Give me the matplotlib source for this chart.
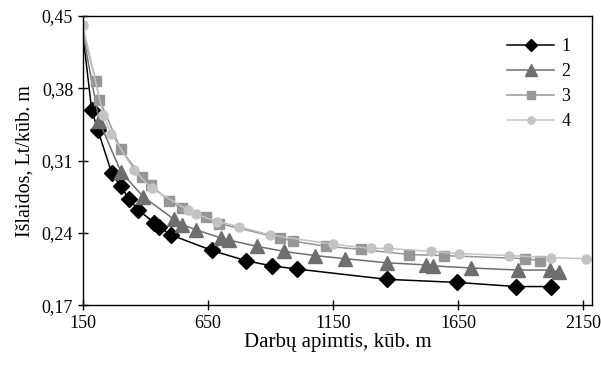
import numpy as np
import matplotlib
matplotlib.use("Agg")
import matplotlib.pyplot as plt
from matplotlib.ticker import FuncFormatter

plt.rcParams['font.family'] = ['Liberation Serif', 'DejaVu Serif']

# series 1 (diamonds)
x1 = [150, 185, 209, 265, 301, 334, 371, 435, 454, 502, 665, 802, 905, 1005, 1365, 1647, 1882, 2022]
y1 = [0.432, 0.359, 0.340, 0.298, 0.285, 0.273, 0.262, 0.250, 0.246, 0.238, 0.223, 0.213, 0.208,
      0.205, 0.195, 0.192, 0.188, 0.188]
# series 2 (triangles)
x2 = [150, 215, 302, 391, 515, 547, 602, 702, 734, 845, 955, 1078, 1198, 1365, 1522, 1551, 1702,
      1889, 2018, 2054]
y2 = [0.433, 0.348, 0.299, 0.275, 0.253, 0.248, 0.243, 0.235, 0.233, 0.227, 0.222, 0.218, 0.215,
      0.211, 0.209, 0.208, 0.206, 0.204, 0.204, 0.202]
# series 3 (squares)
x3 = [150, 202, 216, 301, 385, 422, 495, 547, 640, 695, 938, 991, 1122, 1260, 1455, 1594, 1918, 1978]
y3 = [0.435, 0.387, 0.369, 0.321, 0.294, 0.286, 0.271, 0.264, 0.255, 0.249, 0.235, 0.232, 0.227,
      0.224, 0.219, 0.218, 0.215, 0.213]
# series 4 (circles)
x4 = [150, 231, 264, 354, 425, 571, 603, 685, 775, 898, 1149, 1301, 1369, 1541, 1654, 1855, 2022, 2162]
y4 = [0.441, 0.354, 0.336, 0.301, 0.283, 0.262, 0.258, 0.251, 0.246, 0.238, 0.229, 0.225, 0.225,
      0.222, 0.220, 0.218, 0.216, 0.215]

xticks = [150, 650, 1150, 1650, 2150]
yticks = [0.17, 0.24, 0.31, 0.38, 0.45]

fig = plt.figure(figsize=(6.01, 3.65), dpi=100)
ax = fig.add_axes([0.138, 0.164, 0.847, 0.792])

ax.plot(x1, y1, color='black', lw=1.1, marker='D', ms=8, mfc='black', mec='black',
        markevery=slice(1, None), label='1')
ax.plot(x2, y2, color='#6e6e6e', lw=1.1, marker='^', ms=10, mfc='#6e6e6e', mec='#6e6e6e',
        markevery=slice(1, None), label='2')
ax.plot(x3, y3, color='#969696', lw=1.1, marker='s', ms=6.5, mfc='#969696', mec='#969696',
        markevery=slice(1, None), label='3')
ax.plot(x4, y4, color='#c3c3c3', lw=1.1, marker='o', ms=6.5, mfc='#c3c3c3', mec='#c3c3c3',
        label='4')

ax.set_xlim(150, 2185)
ax.set_ylim(0.17, 0.45)
ax.set_xticks(xticks)
ax.set_yticks(yticks)
ax.yaxis.set_major_formatter(FuncFormatter(lambda v, p: ('%.2f' % v).replace('.', ',')))
ax.tick_params(direction='inout', length=7, width=1, labelsize=13)
for s in ax.spines.values():
    s.set_linewidth(1)

ax.set_xlabel('Darbų apimtis, kūb. m', fontsize=15, labelpad=1)
ax.set_ylabel('Išlaidos, Lt/kūb. m', fontsize=14.5, labelpad=5)

ax.legend(loc='upper right', frameon=False, fontsize=13, handlelength=2.6,
          bbox_to_anchor=(0.99, 0.98), labelspacing=0.45, handletextpad=0.4,
          markerscale=0.8)

fig.savefig('out.png', dpi=100)
